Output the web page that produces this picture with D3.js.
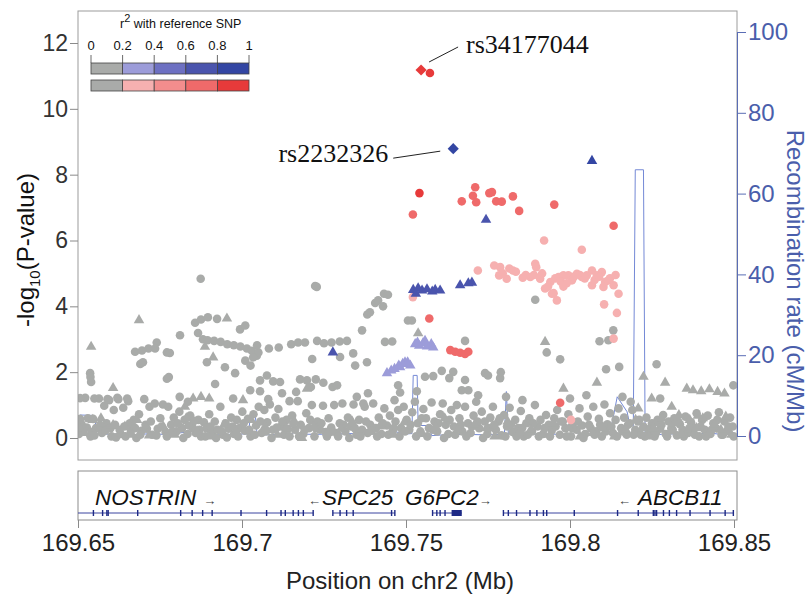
<!DOCTYPE html>
<html>
<meta charset="utf-8">
<head>
<title>G6PC2 regional association plot</title>
<style>
body { margin: 0; background: #fff; }
svg { display: block; font-family: "Liberation Sans", Arial, Helvetica, sans-serif; }
</style>
<script src="https://cdn.jsdelivr.net/npm/d3@7/dist/d3.min.js"></script>
</head>
<body>
<svg width="812" height="595"></svg>
<script>

// region start, positions below are kb from here
var regionStartMb = 169.65;
var xTicksMb = [169.65, 169.7, 169.75, 169.8, 169.85];
var yTicks = [0, 2, 4, 6, 8, 10, 12];
var recTicks = [0, 20, 40, 60, 80, 100];
var ldBreaks = [0, 0.2, 0.4, 0.6, 0.8, 1];
var ldLabels = ["0", "0.2", "0.4", "0.6", "0.8", "1"];
var blueColors = ["#a9aba9", "#9c9cd9", "#6d70c2", "#4a54ad", "#3346a3"];
var redColors = ["#a9aba9", "#f6b0b0", "#f38d8d", "#ef6a6a", "#e73a3a"];

// [kb, -log10 p]  grey = r2 < 0.2
var greyCircles = [
[0.6,0.58],[1.5,0.25],[2.2,1.22],[3.0,0.6],[3.8,0.05],[4.6,0.58],[5.5,0.3],[6.4,1.2],[7.3,0.15],[8.0,0.98],[8.7,0.45],[9.5,1.15],[10.2,0.05],[10.9,0.85],[11.6,0.02],[12.3,1.18],[13.0,0.12],[13.8,0.92],[14.5,0.05],[15.3,1.12],[16.1,0.22],[17.0,0.55],[17.8,0.0],[18.6,0.72],[19.4,0.22],[20.2,1.18],[21.0,0.28],[21.8,0.95],[22.6,0.1],[23.4,1.05],[24.3,0.28],[25.1,0.6],[25.9,1.02],[26.7,0.18],[27.5,0.95],[28.4,0.4],[29.2,0.62],[30.0,0.2],[30.9,0.8],[31.7,0.3],[32.5,0.55],[33.4,0.12],[34.2,0.68],[35.0,0.3],[35.9,0.15],[36.7,0.55],[37.5,0.05],[38.4,0.48],[39.2,0.3],[40.0,0.72],[40.9,0.15],[41.7,0.5],[42.5,0.25],[43.4,0.95],[44.2,0.1],[45.0,0.45],[45.9,0.28],[46.7,0.62],[47.6,0.12],[48.4,0.55],[49.2,0.3],[50.1,0.8],[50.9,0.22],[51.8,0.58],[52.6,0.05],[53.5,0.72],[54.3,0.38],[55.1,0.95],[56.0,0.15],[56.8,0.85],[57.7,0.48],[58.5,1.02],[59.4,0.25],[60.2,0.62],[61.1,0.88],[61.9,0.35],[62.8,0.1],[63.6,0.55],[64.5,0.05],[65.3,0.68],[66.2,0.25],[67.0,1.12],[67.9,0.4],[68.7,0.12],[69.6,0.75],[70.4,0.3],[71.3,1.0],[72.1,0.05],[73.0,0.5],[73.8,0.25],[74.7,0.98],[75.5,0.18],[76.4,0.6],[77.2,0.32],[78.1,1.0],[78.9,0.15],[79.8,0.45],[80.6,1.05],[81.5,0.2],[82.3,0.62],[83.2,0.35],[84.0,1.02],[84.9,0.1],[85.7,0.55],[86.6,0.25],[87.4,0.95],[88.3,0.15],[89.1,0.4],[90.0,1.05],[90.8,0.3],[91.7,0.62],[92.5,0.12],[93.4,0.9],[94.2,0.38],[95.1,0.68],[95.9,0.2],[96.8,0.5],[97.6,0.85],[98.5,0.3],[99.3,0.95],[100.2,0.55],[101.0,0.25],[101.9,0.78],[102.7,1.1],[103.6,0.45],[104.4,0.2],[105.3,0.88],[106.1,0.6],[107.0,0.3],[107.8,1.08],[108.7,0.5],[109.5,0.2],[110.4,0.72],[111.2,1.05],[112.1,0.4],[112.9,0.12],[113.8,0.85],[114.6,0.35],[115.5,1.0],[116.3,0.6],[117.2,0.2],[118.0,0.95],[118.9,0.45],[119.7,0.15],[120.6,0.68],[121.4,1.1],[122.3,0.3],[123.1,0.8],[124.0,0.5],[124.8,0.12],[125.7,0.62],[126.5,0.95],[127.4,0.25],[128.2,0.5],[129.1,0.08],[129.9,0.7],[130.8,0.35],[131.6,0.92],[132.5,0.18],[133.3,0.55],[134.2,0.3],[135.0,0.82],[135.9,0.05],[136.7,0.45],[137.6,0.6],[138.4,0.2],[139.3,1.0],[140.1,0.35],[141.0,0.55],[141.8,0.12],[142.7,0.7],[143.5,0.4],[144.4,0.22],[145.2,0.6],[146.1,0.85],[146.9,0.1],[147.8,0.5],[148.6,0.3],[149.5,0.72],[150.3,0.05],[151.2,0.48],[152.0,0.25],[152.9,0.9],[153.7,0.38],[154.6,0.12],[155.4,0.65],[156.3,0.3],[157.1,0.95],[158.0,0.2],[158.8,0.58],[159.7,0.05],[160.5,1.02],[161.4,0.42],[162.2,0.75],[163.1,0.15],[163.9,0.55],[164.8,0.9],[165.6,0.3],[166.5,0.62],[167.3,0.1],[168.2,0.45],[169.0,0.85],[169.9,0.25],[170.7,0.5],[171.6,0.1],[172.4,0.35],[173.3,0.62],[174.1,0.2],[175.0,0.45],[175.8,0.05],[176.7,0.55],[177.5,0.28],[178.4,0.7],[179.2,0.12],[180.1,0.5],[180.9,0.3],[181.8,0.6],[182.6,0.08],[183.5,0.42],[184.3,0.25],[185.2,0.65],[186.0,0.15],[186.9,0.48],[187.7,0.3],[188.6,0.75],[189.4,0.05],[190.3,0.55],[191.1,0.25],[192.0,0.68],[192.8,0.12],[193.7,0.45],[194.5,0.3],[195.4,0.78],[196.2,0.1],[197.1,0.5],[197.9,0.22],[198.8,0.62],[199.6,0.35],
[0.3,0.12],[1.1,0.42],[2.7,0.32],[4.1,0.18],[5.0,0.08],[6.9,0.35],[8.3,0.22],[9.9,0.3],[11.3,0.4],[12.7,0.25],[14.1,0.35],[15.8,0.45],[17.4,0.3],[19.0,0.1],[20.6,0.4],[22.2,0.5],[23.9,0.08],[25.5,0.35],[27.1,0.05],[28.8,0.2],[30.4,0.45],[32.1,0.0],[33.8,0.38],[35.4,0.52],[37.1,0.25],[38.8,0.05],[40.4,0.35],[42.1,0.0],[43.8,0.2],[45.4,0.02],[47.1,0.35],[48.8,0.05],[50.5,0.45],[52.2,0.25],[53.9,0.1],[55.6,0.5],[57.3,0.2],[59.0,0.0],[60.6,0.32],[62.3,0.5],[64.0,0.28],[65.7,0.45],[67.4,0.05],[69.1,0.25],[70.8,0.55],[72.5,0.3],[74.2,0.45],[75.9,0.05],[77.6,0.2],[79.3,0.05],[81.0,0.4],[82.7,0.0],[84.4,0.3],[86.1,0.05],[87.8,0.5],[89.5,0.22],[91.2,0.05],[92.9,0.45],[94.6,0.1],[96.3,0.3],[98.0,0.05],[99.7,0.2],[101.4,0.4],[103.1,0.05],[104.8,0.6],[106.5,0.05],[108.2,0.25],[109.9,0.45],[111.6,0.0],[113.3,0.55],[115.0,0.1],[116.7,0.4],[118.4,0.05],[120.1,0.35],[121.8,0.5],[123.5,0.0],[125.2,0.3],[126.9,0.4],[128.6,0.6],[130.3,0.05],[132.0,0.4],[133.7,0.05],[135.4,0.3],[137.1,0.1],[138.8,0.45],[140.5,0.05],[142.2,0.3],[143.9,0.05],[145.6,0.35],[147.3,0.5],[149.0,0.05],[150.7,0.3],[152.4,0.5],[154.1,0.0],[155.8,0.4],[157.5,0.1],[159.2,0.4],[160.9,0.2],[162.6,0.35],[164.3,0.05],[166.0,0.2],[167.7,0.4],[169.4,0.1],[171.1,0.55],[172.8,0.05],[174.5,0.3],[176.2,0.15],[177.9,0.4],[179.6,0.05],[181.3,0.25],[183.0,0.5],[184.7,0.05],[186.4,0.3],[188.1,0.1],[189.8,0.35],[191.5,0.05],[193.2,0.25],[194.9,0.55],[196.6,0.1],[198.3,0.35],[199.9,0.05],
[3.7,1.97],[3.8,1.85],[4.0,1.7],[0.6,1.21],[5.0,1.2],[9.0,1.18],[12.0,1.22],[15.0,1.2],[17.4,2.62],[19.5,2.66],[21.5,2.72],[24.0,2.9],[23.5,2.72],[19.0,2.25],[19.8,2.3],[27.1,2.6],[28.0,2.58],[27.1,1.8],[27.7,1.85],[31.1,3.12],[35.7,3.5],[37.5,3.6],[39.6,3.67],[42.4,3.62],[36.6,3.19],[37.4,4.84],[38.1,3.0],[39.5,2.97],[41.5,2.95],[43.5,2.92],[45.5,2.85],[47.5,2.82],[49.5,2.78],[51.5,2.72],[53.0,2.65],[54.5,2.5],[55.0,2.6],[39.3,2.3],[44.8,2.15],[47.9,1.97],[49.4,3.3],[51.0,3.42],[51.0,2.35],[52.6,2.2],[53.4,2.45],[41.8,1.64],[47.3,1.2],[52.5,1.45],[55.5,1.42],[55.5,1.75],[57.6,1.9],[59.5,1.72],[61.6,1.7],[54.6,2.82],[58.2,2.72],[61.2,2.75],[65.0,2.85],[67.1,2.9],[62.2,1.36],[69.2,2.9],[71.4,2.4],[72.3,4.62],[72.8,4.59],[72.9,2.95],[75.0,2.88],[77.3,2.9],[79.8,2.93],[82.0,2.95],[79.9,2.46],[67.7,1.78],[69.8,1.75],[72.5,1.78],[74.8,1.68],[77.6,1.55],[79.0,1.6],[71.0,1.55],[83.9,2.57],[84.5,2.2],[86.6,3.27],[88.2,3.75],[89.0,3.82],[90.6,4.1],[91.5,4.18],[93.0,4.0],[93.3,4.38],[94.5,4.35],[93.6,2.92],[95.8,2.93],[88.1,2.3],[88.4,1.36],[97.6,1.6],[100.6,3.57],[101.8,3.57],[118.0,2.95],[139.4,4.2],[142.9,2.6],[147.0,2.39],[159.0,2.94],[161.7,2.97],[163.2,3.27],[161.0,2.09],[165.0,2.16],[176.4,2.24],[199.8,1.6],[105.8,1.86],[108.3,1.88],[110.9,2.04],[114.4,2.01],[113.2,1.82],[118.0,1.76],[124.1,1.97],[125.0,1.9],[128.7,1.82],[128.9,2.0],[98.2,1.38],[103.3,1.42],[117.0,1.45],[119.0,1.45],
[31.0,1.25],[33.5,1.1],[58.0,1.18],[64.5,1.12],[66.5,1.4],[85.0,1.25],[87.0,1.05],[96.5,1.15],[122.0,1.3],[130.5,1.25],[135.5,1.15],[150.0,1.2],[155.0,1.3],[166.0,1.25],[168.5,1.1],[177.5,1.2]
];

var greyTriangles = [
[0.5,0.3],[2.0,0.15],[4.5,0.55],[6.7,0.45],[7.0,0.6],[10.7,0.39],[14.3,0.35],[16.5,0.1],[18.0,0.55],[21.7,0.08],[26.0,0.35],[29.5,0.1],[33.0,0.6],[36.3,0.2],[39.7,0.05],[44.5,0.4],[48.2,0.2],[52.8,0.55],[57.0,0.35],[60.8,0.1],[63.5,0.3],[66.0,0.5],[68.3,0.0],[71.8,0.35],[76.0,0.15],[80.2,0.28],[83.6,0.5],[88.8,0.2],[92.0,0.35],[96.0,0.1],[99.5,0.48],[105.0,0.12],[109.0,0.35],[111.8,0.6],[115.8,0.25],[120.9,0.4],[124.5,0.3],[127.0,0.05],[131.0,0.5],[134.8,0.2],[138.0,0.25],[141.5,0.1],[145.0,0.45],[149.8,0.3],[153.0,0.05],[156.9,0.15],[160.0,0.3],[163.5,0.05],[167.0,0.25],[170.0,0.55],[172.0,0.3],[174.0,0.05],[176.0,0.45],[178.0,0.6],[180.5,0.2],[182.0,0.45],[184.0,0.1],[186.5,0.55],[188.5,0.3],[190.5,0.6],[192.4,0.15],[194.0,0.4],[196.0,0.25],[197.5,0.65],[199.2,0.1],[183.2,0.7],[189.0,0.68],[181.0,0.95],[175.5,0.3],[170.8,0.9],
[4.0,2.77],[18.6,3.58],[10.7,1.52],[38.7,2.77],[41.2,2.45],[45.4,3.63],[32.6,0.95],[50.3,1.15],[69.8,1.5],[35.1,1.2],[37.5,1.25],[40.0,1.2],[103.7,3.18],[142.4,2.92],[172.4,1.86],[179.0,1.68],[174.9,1.2],[185.6,1.5],[187.5,1.45],[190.0,1.42],[192.5,1.48],[195.0,1.4],[197.1,1.35],[158.2,1.68],[148.0,1.5]
];

// LD with rs34177044 (red), circles, by r2 bin
var redBin1 = [[142.1,6.0],[153.6,5.72],[121.9,5.09],[126.9,5.24],[128.7,5.19],[128.4,4.94],[130.7,4.84],[132.6,5.09],[135.6,4.87],[137.9,4.89],[139.4,5.29],[139.7,5.19],[140.9,4.84],[142.4,4.54],[144.0,4.74],[144.5,4.38],[146.0,4.18],[146.5,4.89],[148.0,4.94],[148.0,4.6],[149.5,4.94],[150.6,4.79],[152.1,4.99],[153.6,4.89],[155.1,4.94],[156.7,5.09],[156.7,4.64],[158.2,4.94],[159.7,5.04],[160.2,4.59],[160.7,4.74],[161.7,4.79],[163.3,4.64],[160.4,4.06],[164.8,4.38],[164.3,3.8],[163.3,3.02],[102.1,4.28],[150.3,0.55],[139.0,4.95],[141.5,5.0],[145.5,4.85],[147.2,4.75],[151.2,4.9],[153.0,4.95],[154.5,4.85],[157.5,4.8],[158.9,4.9],[162.2,4.85],[163.9,4.95],[149.0,4.7],[143.3,4.6],[145.0,4.4],[136.5,4.95],[133.5,5.05],[131.5,5.15],[129.5,5.0]];
var redBin3 = [[102.1,6.79],[117.0,7.19],[120.4,7.36],[121.1,7.62],[121.4,7.16],[125.4,7.44],[126.2,7.47],[127.5,7.19],[129.2,7.18],[132.6,7.34],[134.5,6.9],[145.2,7.09],[163.3,6.45],[107.1,3.63],[113.5,2.67],[115.0,2.62],[116.5,2.59],[118.0,2.55],[119.0,2.62],[147.0,1.07]];
var redBin4 = [[107.3,11.09],[104.1,7.44]];

// LD with rs2232326 (blue), triangles, by r2 bin
var blueBin1 = [[102.8,2.85],[104.0,2.8],[105.2,2.88],[106.4,2.78],[107.7,2.85],[108.3,2.75],[98.2,2.15],[99.7,2.3],[101.3,2.2],[94.2,1.97],[95.5,2.05],[96.5,2.1],[97.8,2.2],[99.0,2.25],[100.5,2.3],[103.5,2.9],[105.8,2.95]];
var blueBin3 = [[124.4,6.63],[102.2,4.5],[103.7,4.55],[104.9,4.48],[106.4,4.52],[108.0,4.45],[108.9,4.5],[110.4,4.48],[116.5,4.64],[119.0,4.7],[120.1,4.72],[77.7,2.6],[103.0,4.38]];
var blueBin4 = [[156.7,8.42]];

// reference SNPs
var refNames = ["rs34177044", "rs2232326"];
var refPos = [104.6, 114.4];
var refLogP = [11.18, 8.79];

// recombination rate [kb, cM/Mb]
var recomb = [[0,1.2],[0.6,5.2],[4.3,5.1],[6.6,0.6],[10,0.4],[14,0.5],[18,0.3],[22,0.6],[26,0.4],[30,0.7],[34,1.0],[36,1.3],[38,0.4],[42,0.3],[46,0.4],[50,0.5],[52.0,0.5],[52.5,4.7],[54.1,4.7],[54.6,0.3],[58,0.3],[62,0.4],[65.3,0.4],[66.1,1.3],[67.0,0.5],[72,0.4],[78,0.5],[84,0.6],[90,0.5],[94,0.8],[97,1.0],[100,0.5],[101.8,0.6],[102.2,15.0],[103.4,15.0],[103.7,2.6],[107.0,2.6],[107.8,0.1],[112,0.3],[118,0.4],[124,0.3],[130.0,0.4],[130.6,11.0],[131.2,0.5],[136,0.4],[142,0.5],[148,0.4],[151,0.6],[151.8,1.2],[152.6,0.5],[158,0.4],[162.2,0.6],[164.4,9.7],[167.4,6.0],[168.3,2.5],[169.3,2.5],[169.9,65.9],[172.4,65.9],[172.9,0.3],[178,0.4],[184,0.6],[188,0.3],[192,0.8],[196,0.4],[200,0.5]];

// genes [kb]
var geneNames = ["NOSTRIN", "SPC25", "G6PC2", "ABCB11"];
var geneStart = [0, 77.7, 108.1, 129.7];
var geneEnd = [71.7, 96.6, 117.0, 200];
var geneStrand = ["+", "-", "+", "-"];
var geneExons = [
  [4.7, 7.5, 8.8, 9.2, 18.2, 31.3, 34.8, 38.0, 40.9, 49.7, 57.5, 61.9, 63.2, 65.6, 67.2, 68.7, 71.7],
  [77.7, 79.9, 81.9, 83.9, 95.6, 96.6],
  [108.1, 109.4, 110.4, 111.9],
  [129.7, 131.2, 133.7, 137.8, 139.9, 141.9, 142.9, 151.3, 164.5, 170.8, 175.4, 175.9, 176.4, 178.5, 180.3, 182.5, 186.6, 192.7, 197.3, 199.8]
];
var g6pc2Block = [113.9, 117.0];

var svg = d3.select("svg");
var plotL = 78, plotR = 737, plotT = 11, plotB = 460;

var x = d3.scaleLinear().domain([169.65, 169.85]).range([78, 734]);
var y = d3.scaleLinear().domain([0, 12]).range([438, 43]);
var yRec = d3.scaleLinear().domain([0, 100]).range([436, 32]);
var px = kb => x(regionStartMb + kb / 1000);

svg.append("clipPath").attr("id", "plotclip")
  .append("rect").attr("x", plotL).attr("y", plotT).attr("width", plotR - plotL).attr("height", plotB - plotT);

// recombination line
svg.append("path")
  .datum(recomb)
  .attr("clip-path", "url(#plotclip)")
  .attr("fill", "none")
  .attr("stroke", "#7489d6")
  .attr("stroke-width", 1)
  .attr("d", d3.line().x(d => px(d[0])).y(d => yRec(d[1])));

var pts = svg.append("g").attr("clip-path", "url(#plotclip)");
var circle = d3.symbol().type(d3.symbolCircle).size(58);
var tri = d3.symbol().type(d3.symbolTriangle).size(48);

function drawSet(data, shape, color) {
  pts.append("g").selectAll("path")
    .data(data)
    .enter().append("path")
    .attr("transform", d => "translate(" + px(d[0]) + "," + y(d[1]) + ")")
    .attr("d", shape)
    .attr("fill", color);
}

drawSet(greyCircles, circle, blueColors[0]);
drawSet(greyTriangles, tri, blueColors[0]);
drawSet(blueBin1, tri, blueColors[1]);
drawSet(redBin1, circle, redColors[1]);
drawSet(blueBin3, tri, blueColors[3]);
drawSet(redBin3, circle, redColors[3]);
drawSet(blueBin4, tri, blueColors[4]);
drawSet(redBin4, circle, redColors[4]);

// reference SNPs as diamonds
var diamond = d3.symbol().type(d3.symbolSquare).size(62);
var refColors = [redColors[4], blueColors[4]];
pts.append("g").selectAll("path")
  .data(refNames)
  .enter().append("path")
  .attr("transform", (d, i) => "translate(" + px(refPos[i]) + "," + y(refLogP[i]) + ") rotate(45)")
  .attr("d", diamond)
  .attr("fill", (d, i) => refColors[i]);

// labels for reference SNPs
var labelOff = [
  {l1: [8, -8], l2: [37, -23], t: [45, -17], anchor: "start"},
  {l1: [-13, 2.5], l2: [-60, 9.5], t: [-65, 13.5], anchor: "end"}
];
refNames.forEach((name, i) => {
  var cx = px(refPos[i]), cy = y(refLogP[i]), o = labelOff[i];
  svg.append("line")
    .attr("x1", cx + o.l1[0]).attr("y1", cy + o.l1[1])
    .attr("x2", cx + o.l2[0]).attr("y2", cy + o.l2[1])
    .attr("stroke", "#222").attr("stroke-width", 1);
  svg.append("text")
    .attr("x", cx + o.t[0]).attr("y", cy + o.t[1])
    .attr("text-anchor", o.anchor)
    .attr("font-family", "'Liberation Serif', 'Times New Roman', serif")
    .attr("font-size", 26)
    .attr("fill", "#111")
    .text(name);
});

// frame
svg.append("rect")
  .attr("x", plotL).attr("y", plotT).attr("width", plotR - plotL).attr("height", plotB - plotT)
  .attr("fill", "none").attr("stroke", "#9c9c9c").attr("stroke-width", 1);

// left axis
var gl = svg.append("g").attr("transform", "translate(" + plotL + ",0)")
  .call(d3.axisLeft(y).tickValues(yTicks).tickSize(8).tickPadding(2));
gl.attr("font-family", null).attr("font-size", 23);
gl.select(".domain").remove();
gl.selectAll("line").attr("stroke", "#8a8a8a");
gl.selectAll("text").attr("fill", "#333");

// right axis
var gr = svg.append("g").attr("transform", "translate(" + plotR + ",0)")
  .call(d3.axisRight(yRec).tickValues(recTicks).tickSize(9).tickPadding(2));
gr.attr("font-family", null).attr("font-size", 24);
gr.select(".domain").attr("stroke", "#5a6db5");
gr.selectAll("line").attr("stroke", "#5a6db5");
gr.selectAll("text").attr("fill", "#4a5eab");

// axis titles
var yt = svg.append("text")
  .attr("transform", "translate(34,250) rotate(-90)")
  .attr("text-anchor", "middle")
  .attr("font-size", 24)
  .attr("fill", "#111");
yt.append("tspan").text("-log");
yt.append("tspan").attr("font-size", 15).attr("dy", 6).text("10");
yt.append("tspan").attr("dy", -6).text("(P-value)");

svg.append("text")
  .attr("transform", "translate(787,281) rotate(90)")
  .attr("text-anchor", "middle")
  .attr("font-size", 24)
  .attr("fill", "#4a5eab")
  .text("Recombination rate (cM/Mb)");

// legend
var lx = d3.scaleLinear().domain([0, 1]).range([91, 249]);
var lg = svg.append("g");
lg.append("text").attr("x", 120).attr("y", 28).attr("font-size", 12.5).attr("fill", "#111")
  .call(t => {
    t.append("tspan").text("r");
    t.append("tspan").attr("font-size", 11).attr("dy", -6).text("2");
    t.append("tspan").attr("dy", 6).text(" with reference SNP");
  });
lg.selectAll(".lab").data(ldBreaks).enter().append("text")
  .attr("x", d => lx(d)).attr("y", 50).attr("text-anchor", "middle")
  .attr("font-size", 13).attr("fill", "#111")
  .text((d, i) => ldLabels[i]);
lg.selectAll(".tk").data(ldBreaks).enter().append("line")
  .attr("x1", d => lx(d)).attr("x2", d => lx(d)).attr("y1", 55).attr("y2", 63)
  .attr("stroke", "#444").attr("stroke-width", 0.8);
[[blueColors, 63], [redColors, 80]].forEach(row => {
  lg.append("g").selectAll("rect").data(row[0]).enter().append("rect")
    .attr("x", (d, i) => lx(ldBreaks[i])).attr("y", row[1])
    .attr("width", (d, i) => lx(ldBreaks[i + 1]) - lx(ldBreaks[i])).attr("height", 11)
    .attr("fill", d => d).attr("stroke", "#444").attr("stroke-width", 0.8);
});

// gene track
var gTop = 471, gBot = 520, gY = 513;
svg.append("rect").attr("x", plotL).attr("y", gTop).attr("width", plotR - plotL).attr("height", gBot - gTop)
  .attr("fill", "none").attr("stroke", "#8c8c8c").attr("stroke-width", 1);
var genes = svg.append("g");
geneNames.forEach((g, i) => {
  genes.append("line")
    .attr("x1", px(geneStart[i])).attr("x2", Math.min(px(geneEnd[i]), plotR - 1))
    .attr("y1", gY).attr("y2", gY)
    .attr("stroke", "#3a44a0").attr("stroke-width", 1);
  genes.selectAll(".ex" + i).data(geneExons[i]).enter().append("rect")
    .attr("x", d => px(d) - 0.7).attr("y", gY - 3).attr("width", 1.4).attr("height", 6)
    .attr("fill", "#1e2a86");
});
genes.append("rect").attr("x", px(g6pc2Block[0])).attr("y", gY - 3)
  .attr("width", px(g6pc2Block[1]) - px(g6pc2Block[0])).attr("height", 6)
  .attr("fill", "#1e2a86");

var geneLabelX = [95, 308, 405, 618];
geneNames.forEach((g, i) => {
  var t = genes.append("text").attr("x", geneLabelX[i]).attr("y", 505)
    .attr("font-size", 22.5).attr("font-style", "italic").attr("fill", "#111");
  if (geneStrand[i] === "-") {
    t.append("tspan").attr("font-size", 13).attr("fill", "#444").attr("font-style", "normal").text("\u2190");
    t.append("tspan").attr("dx", i === 3 ? 7 : 1).text(g);
  } else {
    t.append("tspan").text(g);
    t.append("tspan").attr("dx", i === 0 ? 7 : 0).attr("font-size", 13).attr("fill", "#444").attr("font-style", "normal").text("\u2192");
  }
});

// x axis under gene track
var gx = svg.append("g").attr("transform", "translate(0," + gBot + ")")
  .call(d3.axisBottom(x).tickValues(xTicksMb).tickFormat(d3.format("")).tickSize(8).tickPadding(6));
gx.attr("font-family", null).attr("font-size", 24);
gx.select(".domain").remove();
gx.selectAll("line").attr("stroke", "#8a8a8a");
gx.selectAll("text").attr("fill", "#222");

svg.append("text").attr("x", 400).attr("y", 589).attr("text-anchor", "middle")
  .attr("font-size", 24).attr("fill", "#222")
  .text("Position on chr2 (Mb)");

</script>
</body>
</html>
